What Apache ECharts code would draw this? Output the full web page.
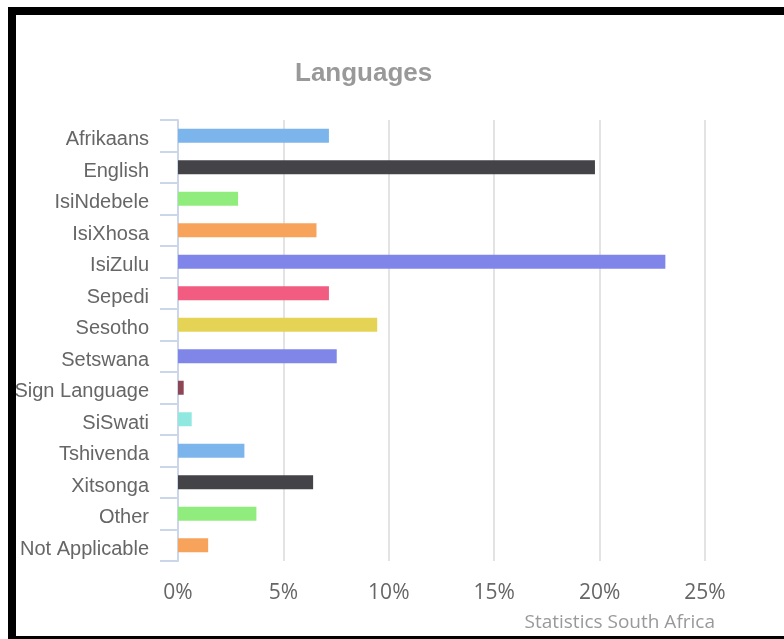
<!DOCTYPE html>
<html>
<head>
<meta charset="utf-8">
<script src="https://cdn.jsdelivr.net/npm/echarts@6/dist/echarts.min.js"></script>
<style>
  html, body { margin: 0; padding: 0; background: #fff; overflow: hidden; }
  #chart { position: absolute; left: 0; top: 0; width: 784px; height: 639px; }
  #frame {
    position: absolute; left: 8px; top: 7px; width: 900px; height: 621px;
    border-left: 8px solid #000; border-top: 8px solid #000; border-bottom: 8px solid #000;
    pointer-events: none;
  }
</style>
</head>
<body>
<div id="chart"></div>
<div id="frame"></div>
<script>
// Home language shares (%)
const languages = [
  'Afrikaans', 'English', 'IsiNdebele', 'IsiXhosa', 'IsiZulu', 'Sepedi', 'Sesotho',
  'Setswana', 'Sign Language', 'SiSwati', 'Tshivenda', 'Xitsonga', 'Other', 'Not Applicable'
];
const shares = [7.16, 19.78, 2.85, 6.57, 23.12, 7.16, 9.45, 7.53, 0.27, 0.65, 3.15, 6.41, 3.72, 1.43];
const axisTicks = [0, 5, 10, 15, 20, 25];

const palette = ['#7cb5ec', '#434348', '#90ed7d', '#f7a35c', '#8085e9',
                 '#f15c80', '#e4d354', '#8085e8', '#8d4653', '#91e8e1'];

const chart = echarts.init(document.getElementById('chart'), null, { renderer: 'canvas' });

chart.setOption({
  animation: false,
  title: {
    text: 'Languages',
    left: 290,
    top: 56,
    textStyle: { fontFamily: 'Liberation Sans, Arial, sans-serif', fontSize: 26, fontWeight: 'bold', color: '#999999' }
  },
  graphic: [{
    type: 'text',
    right: 69,
    top: 613,
    style: {
      text: 'Statistics South Africa',
      font: '19px "Open Sans", sans-serif',
      fill: '#999999'
    }
  }],
  grid: { left: 178, right: 79, top: 120, bottom: 78, containLabel: false },
  xAxis: {
    type: 'value',
    min: axisTicks[0],
    max: axisTicks[axisTicks.length - 1],
    interval: axisTicks[1] - axisTicks[0],
    axisLine: { show: false },
    axisTick: { show: false },
    splitLine: { show: true, lineStyle: { color: '#e3e3e3', width: 2 } },
    axisLabel: {
      formatter: '{value}%',
      margin: 22,
      fontFamily: 'Open Sans, sans-serif',
      fontSize: 21,
      color: '#666666'
    }
  },
  yAxis: {
    type: 'category',
    inverse: true,
    data: languages,
    axisLine: { show: true, lineStyle: { color: '#ccd6eb', width: 2 } },
    axisTick: { show: true, length: 18, lineStyle: { color: '#ccd6eb', width: 2 } },
    splitLine: { show: false },
    axisLabel: {
      margin: 29,
      verticalAlign: 'top',
      lineHeight: 8,
      fontFamily: 'Liberation Sans, Arial, sans-serif',
      fontSize: 20,
      color: '#666666'
    }
  },
  series: [{
    type: 'bar',
    data: shares,
    barWidth: 14,
    itemStyle: {
      color: (p) => palette[p.dataIndex % palette.length]
    }
  }]
});
</script>
</body>
</html>
